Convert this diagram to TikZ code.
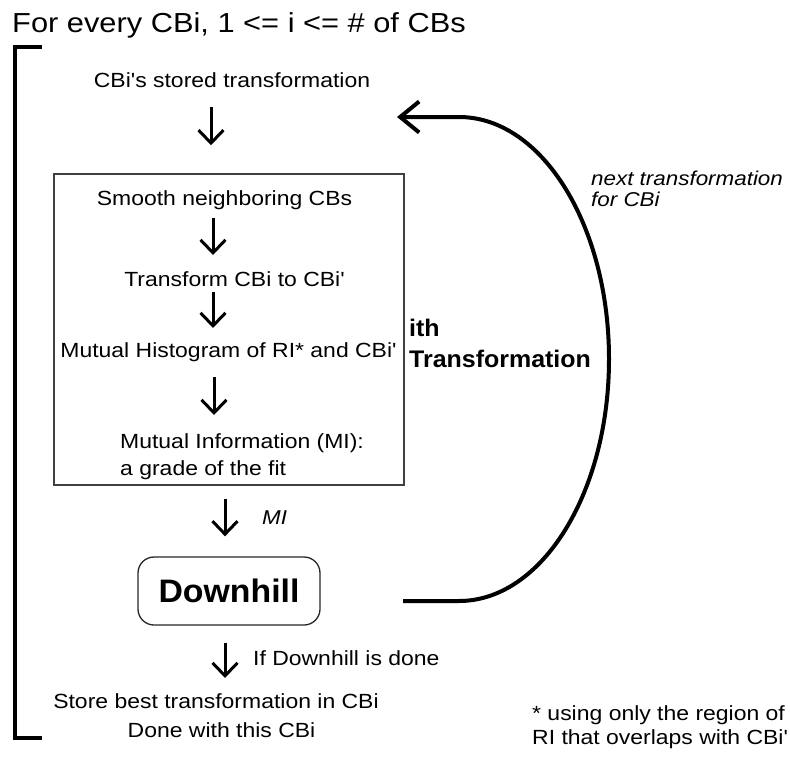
\documentclass[tikz,border=0pt]{standalone}
\usepackage{fontspec}
\setmainfont{Liberation Sans}[FakeStretch=1.12, Ligatures=TeXOff]
\newfontfamily\heavy{Liberation Sans}[FakeStretch=1.04, Ligatures=TeXOff]
\usetikzlibrary{arrows.meta,calc}

\tikzset{
  txt/.style={inner sep=0pt, font=\fontsize{20.5}{24}\selectfont},
  itxt/.style={inner sep=0pt, font=\fontsize{20}{24}\selectfont\itshape},
  btxt/.style={inner sep=0pt, font=\fontsize{24}{28}\heavy\bfseries},
  flow/.style={line width=3pt, -{Straight Barb[length=13pt,width=25pt]}},
  frame/.style={draw=black!75, line width=1.5pt, minimum width=350pt, minimum height=311pt, inner sep=0pt},
  roundbox/.style={draw=black!85, line width=1.3pt, rounded corners=16pt, minimum width=182pt, minimum height=68pt, inner sep=0pt, font=\fontsize{32.5}{36}\heavy\bfseries},
  loopline/.style={line width=4pt, -{Straight Barb[length=19pt,width=31pt]}},
  bracket/.style={line width=4pt}
}

\begin{document}
\begin{tikzpicture}[x=1pt,y=-1pt]
\useasboundingbox (0,0) rectangle (790,758);

% heading
\node[inner sep=0pt, anchor=base west, font=\fontsize{27.5}{32}\selectfont] (title) at (12,32) {For every CBi, 1 <= i <= \# of CBs};

% bracket enclosing the per-block loop
\draw[bracket] (42,47) -- (15,47) -- (15,738) -- (42,738);

% starting point
\node[txt, anchor=base] (stored) at (232,87) {CBi's stored transformation};

% one transformation step
\node[frame] (box) at (229,329.5) {};
\node[txt, anchor=base] (smooth) at (224.5,205) {Smooth neighboring CBs};
\node[txt, anchor=base] (transform) at (234.5,286) {Transform CBi to CBi'};
\node[txt, anchor=base] (hist) at (228.5,357) {Mutual Histogram of RI* and CBi'};
\node[txt, anchor=base west] (mi1) at (120,448) {Mutual Information (MI):};
\node[txt, anchor=base west] (mi2) at (120,475) {a grade of the fit};

\node[btxt, anchor=base west] (ith1) at (409,336) {ith};
\node[btxt, anchor=base west] (ith2) at (409,367.5) {Transformation};

% optimiser
\node[roundbox] (downhill) at (229,591) {Downhill};
\node[itxt, anchor=base west] (milab) at (262,524) {MI};
\node[txt, anchor=base west] (donelab) at (253,665) {If Downhill is done};

% result
\node[txt, anchor=base] (store) at (216,708) {Store best transformation in CBi};
\node[txt, anchor=base] (finish) at (221.5,737) {Done with this CBi};

% notes
\node[itxt, anchor=base west] (next1) at (591,185) {next transformation};
\node[itxt, anchor=base west] (next2) at (591,206) {for CBi};
\node[txt, anchor=base west] (foot1) at (532,720) {* using only the region of};
\node[txt, anchor=base west] (foot2) at (532,744) {RI that overlaps with CBi'};

% flow arrows
\draw[flow] ($(stored.base)+(-21,20)$) -- ($(box.north)+(-18,-28)$);
\draw[flow] ($(smooth.base)+(-11.5,13)$) -- ($(transform.base)+(-21.5,-31)$);
\draw[flow] ($(transform.base)+(-21.5,6)$) -- ($(hist.base)+(-15.5,-29)$);
\draw[flow] ($(hist.base)+(-14.5,20)$) -- ($(mi1.base west)+(94,-33)$);
\draw[flow] ($(box.south)+(-4,13)$) -- ($(downhill.north)+(-4,-20)$);
\draw[flow] ($(downhill.south)+(-4,17)$) -- ($(store.base)+(9,-30)$);

% loop back to the next transformation
\coordinate (loopstart) at (403,601);
\coordinate (looptip) at (397,117);
\draw[loopline] (loopstart) -- (459,601)
  .. controls (541.8,601) and (609,492.7) .. (609,359)
  .. controls (609,225.3) and (541.8,117) .. (459,117) -- (looptip);
\end{tikzpicture}
\end{document}
